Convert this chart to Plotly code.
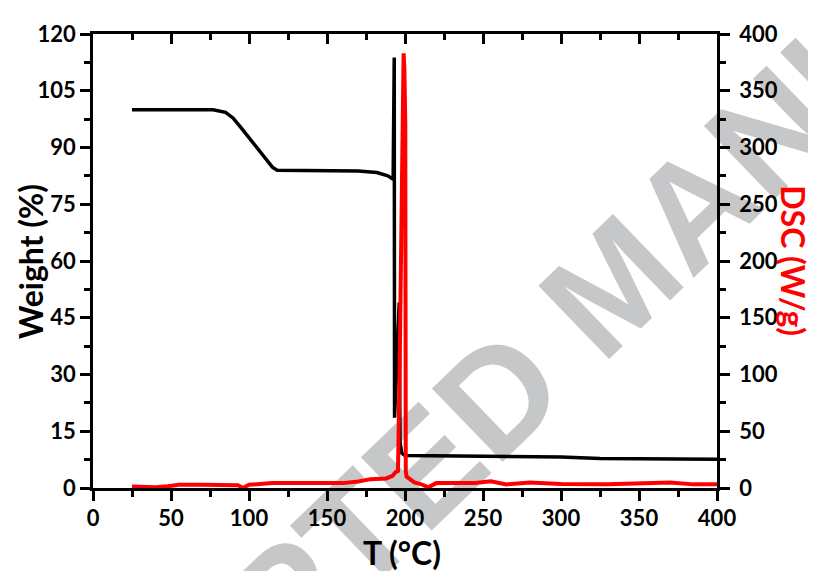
import plotly.graph_objects as go

# TGA data
T_tga = [25, 40, 60, 77, 85, 89.7, 95, 102.6, 107, 111.5, 115, 118, 130, 154, 170, 182, 189, 192.4,
         193.1, 193.3, 196.3, 196.8, 198, 200, 250, 300, 325, 360, 400]
weight = [100, 100, 100, 100, 99.3, 97.8, 95.2, 91.3, 88.7, 86.4, 84.8, 84, 84, 84, 83.8, 83.4, 82.5, 81.6,
          113.8, 18.6, 49, 12, 9.2, 8.6, 8.5, 8.2, 7.8, 7.7, 7.6]

# DSC data
T_dsc = [25, 32, 40, 48, 55, 70, 90, 93, 96, 99, 100, 107, 115, 140, 160, 170, 178, 188, 192, 194, 195.5,
         196.5, 197.4, 198.3, 199.1, 199.6, 200.2, 200.3, 200.3, 200.5, 201, 203, 206, 210, 215, 220,
         235, 245, 255, 265, 280, 300, 330, 350, 370, 385, 400]
dsc = [1.4, 1.2, 0.6, 1.5, 2.9, 2.9, 2.9, 2.5, 0.0, 2.0, 2.9, 3.5, 4.3, 4.3, 4.3, 5.8, 7.8, 8.4, 10.7, 14, 15,
       100, 204, 300, 383, 370, 320, 200, 60, 15, 10, 7.8, 5, 3.5, 0.6, 4.3,
       4.0, 4.5, 6.0, 3.2, 4.9, 3.5, 3.2, 3.8, 4.9, 3.2, 3.2]

x_ticks = [0, 50, 100, 150, 200, 250, 300, 350, 400]
w_ticks = [0, 15, 30, 45, 60, 75, 90, 105, 120]
d_ticks = [0, 50, 100, 150, 200, 250, 300, 350, 400]

FONT = "Lato"
tickfont = dict(family=FONT, size=22, color="black", weight="bold")

fig = go.Figure()
fig.add_trace(go.Scatter(x=T_tga, y=weight, mode="lines", line=dict(color="black", width=3.5),
                         xaxis="x", yaxis="y", showlegend=False, hoverinfo="skip"))
fig.add_trace(go.Scatter(x=T_dsc, y=dsc, mode="lines", line=dict(color="#ff0000", width=4),
                         xaxis="x", yaxis="y2", showlegend=False, hoverinfo="skip"))
# invisible trace for top axis
fig.add_trace(go.Scatter(x=[0, 400], y=[0, 0], mode="lines", line=dict(width=0), opacity=0,
                         xaxis="x2", yaxis="y", showlegend=False, hoverinfo="skip"))

common = dict(showgrid=False, zeroline=False, showline=True, linecolor="black", linewidth=2.5,
              tickcolor="black", tickwidth=2.5)

# page body has an 8px margin: figure is 808x563 so the plot lands at (93,28)-(717,488)
fig.update_layout(
    width=808, height=563,
    margin=dict(l=85, r=99, t=20, b=83),
    paper_bgcolor="white", plot_bgcolor="rgba(0,0,0,0)",
    xaxis=dict(range=[0, 400], tickvals=x_ticks, ticks="outside", ticklen=10, tickfont=tickfont,
               ticklabelstandoff=-1,
               minor=dict(ticks="outside", ticklen=6, dtick=25, tick0=0, tickcolor="black", tickwidth=2.5),
               **common),
    xaxis2=dict(range=[0, 400], overlaying="x", side="top", tickvals=x_ticks, ticks="inside", ticklen=10,
                showticklabels=False,
                minor=dict(ticks="inside", ticklen=6, dtick=25, tick0=0, tickcolor="black", tickwidth=2.5),
                **common),
    yaxis=dict(range=[0, 120], tickvals=w_ticks, ticks="outside", ticklen=10, tickfont=tickfont,
               ticklabelstandoff=0,
               minor=dict(ticks="outside", ticklen=6, dtick=7.5, tick0=0, tickcolor="black", tickwidth=2.5),
               **common),
    yaxis2=dict(range=[0, 400], overlaying="y", side="right", tickvals=d_ticks, ticks="outside", ticklen=10,
                tickfont=tickfont, ticklabelstandoff=5,
                minor=dict(ticks="outside", ticklen=6, dtick=25, tick0=0, tickcolor="black", tickwidth=2.5),
                **common),
)

# watermark drawn below traces as a shape label
fig.add_shape(type="rect", xref="paper", yref="paper", x0=0.721, x1=0.916, y0=0.373, y1=0.573,
              layer="below", line=dict(width=0), fillcolor="rgba(0,0,0,0)",
              label=dict(text="ACCEPTED MANUSCRIPT", textangle=-44, textposition="middle center",
                         font=dict(family="Liberation Sans", size=148, color="#c6c7c9", weight="bold")))

titlefont = dict(family=FONT, size=32, color="black", weight="bold")
fig.add_annotation(text="T (°C)", x=0.495, y=-0.141, xref="paper", yref="paper", showarrow=False,
                   xanchor="center", yanchor="middle", font=titlefont)
fig.add_annotation(text="Weight (%)", x=-0.101, y=0.5, xref="paper", yref="paper", showarrow=False,
                   xanchor="center", yanchor="middle", textangle=-90, font=titlefont)
fig.add_annotation(text="DSC (W/g)", x=1.123, y=0.5, xref="paper", yref="paper", showarrow=False,
                   xanchor="center", yanchor="middle", textangle=90,
                   font=dict(family=FONT, size=32, color="#ff0000", weight="bold"))

fig.write_html("out.html")
